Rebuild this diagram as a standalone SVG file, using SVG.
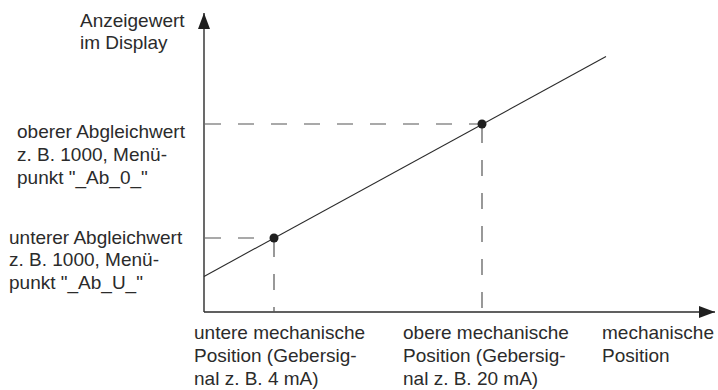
<svg xmlns="http://www.w3.org/2000/svg" width="718" height="390" viewBox="0 0 718 390">
<style>
text{font-family:"Liberation Sans",Arial,sans-serif;font-size:19px;fill:#2b2b2b}
.ax{stroke:#2b2b2b;stroke-width:1.4;fill:none}
.ds{stroke:#555;stroke-width:1.2;stroke-dasharray:16 17;fill:none}
.ln{stroke:#2b2b2b;stroke-width:1.1;fill:none}
.pt{fill:#1f1f1f}
</style>
<defs>
<marker id="ah" viewBox="0 0 16 12" refX="16" refY="6" markerWidth="16" markerHeight="12" markerUnits="userSpaceOnUse" orient="auto">
<path d="M0,0 L16,6 L0,12 Z" fill="#1f1f1f"/>
</marker>
</defs>
<g id="connectors">
<path class="ax" d="M204,312 L204,13" marker-end="url(#ah)"/>
<path class="ax" d="M204,312 L715,312" marker-end="url(#ah)"/>
<path class="ds" d="M205,124 L482,124"/>
<path class="ds" d="M482,127 L482,312"/>
<path class="ds" d="M205,238 L274,238"/>
<path class="ds" d="M274,241 L274,312"/>
<path class="ln" d="M204,276.4 L606,56.5"/>
</g>
<g id="point-upper"><circle class="pt" cx="482" cy="124" r="4.5"/></g>
<g id="point-lower"><circle class="pt" cx="274" cy="238" r="4.5"/></g>
<g id="label-y-axis">
<text x="80" y="27">Anzeigewert</text>
<text x="80" y="49">im Display</text>
</g>
<g id="label-upper-value">
<text x="17" y="138">oberer Abgleichwert</text>
<text x="17" y="161">z. B. 1000, Menü-</text>
<text x="17" y="184">punkt "_Ab_0_"</text>
</g>
<g id="label-lower-value">
<text x="9" y="244">unterer Abgleichwert</text>
<text x="9" y="266">z. B. 1000, Menü-</text>
<text x="9" y="289">punkt "_Ab_U_"</text>
</g>
<g id="label-lower-position">
<text x="194" y="339">untere mechanische</text>
<text x="194" y="362">Position (Gebersig-</text>
<text x="194" y="385">nal z. B. 4 mA)</text>
</g>
<g id="label-upper-position">
<text x="403" y="339">obere mechanische</text>
<text x="403" y="362">Position (Gebersig-</text>
<text x="403" y="385">nal z. B. 20 mA)</text>
</g>
<g id="label-x-axis">
<text x="602" y="339">mechanische</text>
<text x="602" y="362">Position</text>
</g>
</svg>
